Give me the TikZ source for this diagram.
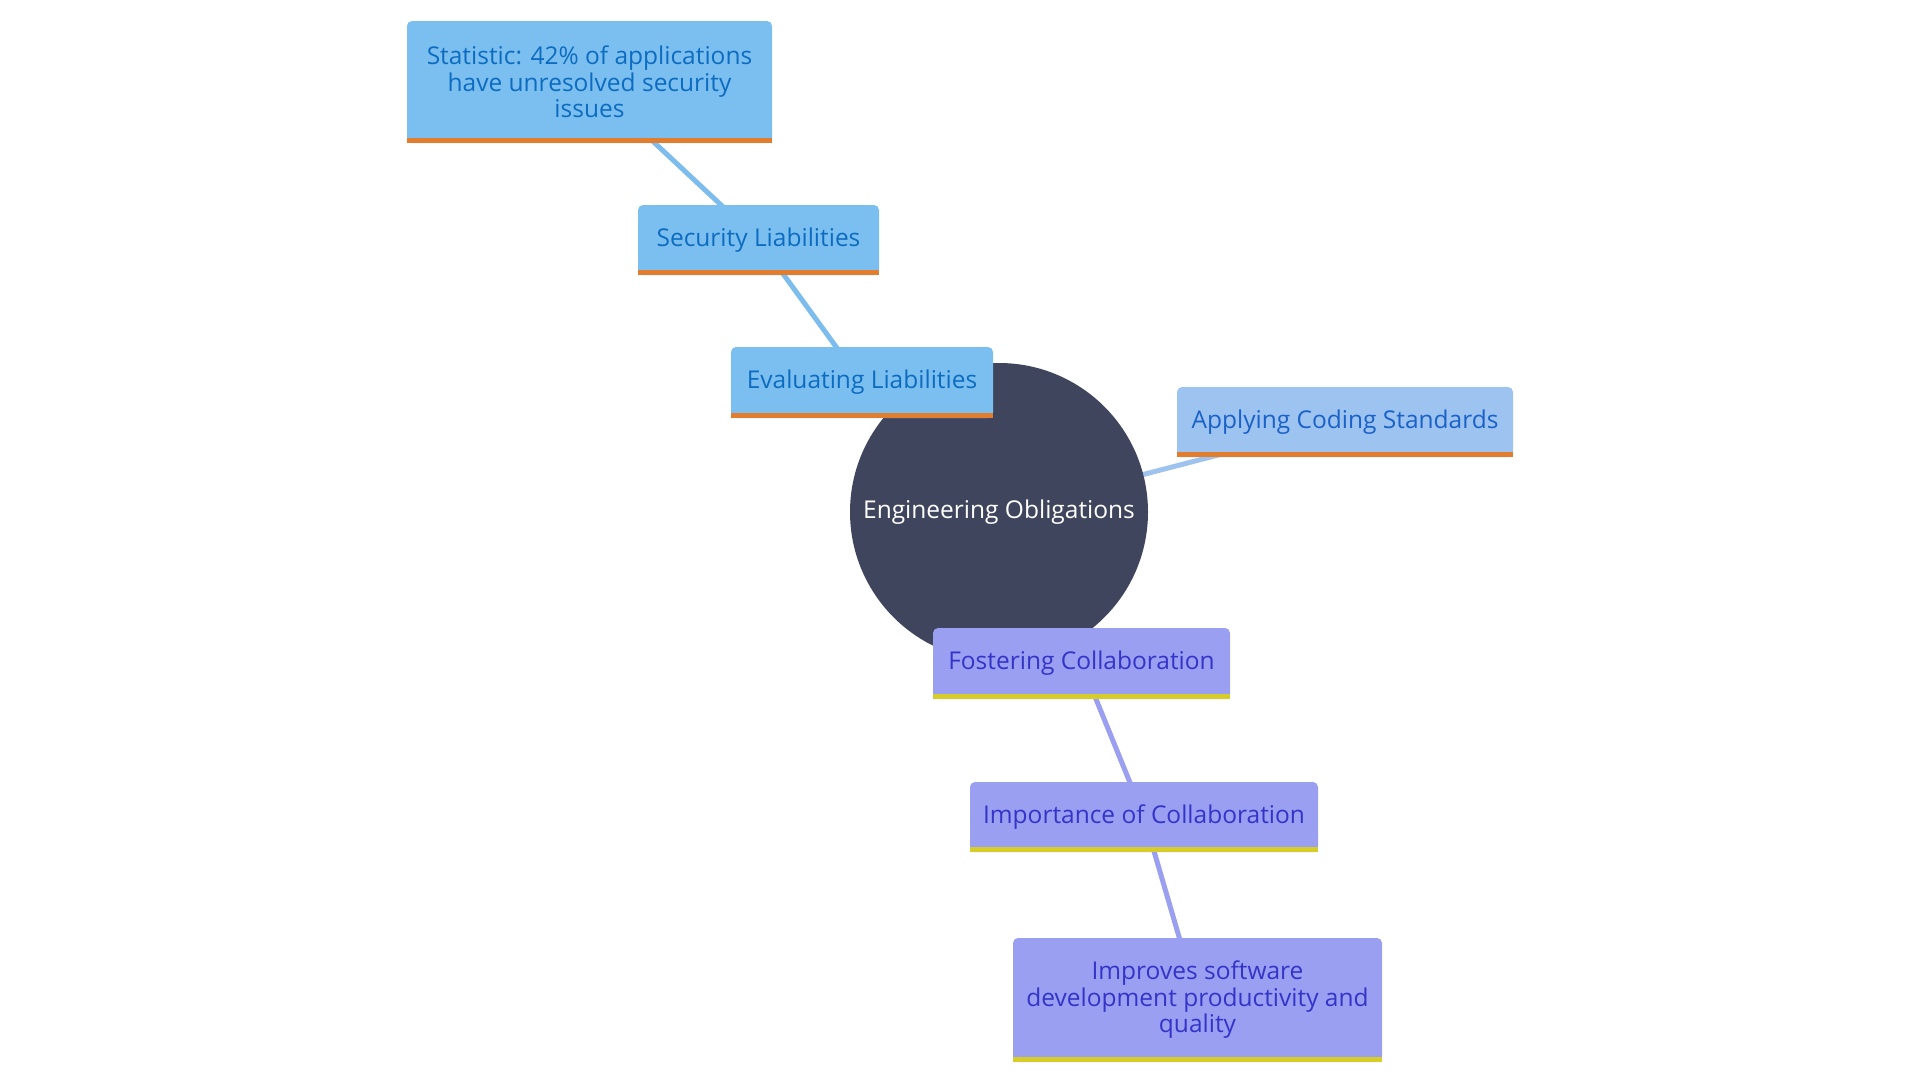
\documentclass[tikz,border=0pt]{standalone}
\usepackage{fontspec}
\setmainfont{Open Sans}
\usetikzlibrary{backgrounds}
\definecolor{bfill}{HTML}{7BBFF0}
\definecolor{btext}{HTML}{0D6CC0}
\definecolor{afill}{HTML}{9DC3F0}
\definecolor{atext}{HTML}{1A62C8}
\definecolor{pfill}{HTML}{9A9FF2}
\definecolor{ptext}{HTML}{3434C8}
\definecolor{barOrange}{HTML}{E27D2E}
\definecolor{barYellow}{HTML}{D6CD28}
\definecolor{hub}{HTML}{40455E}
\definecolor{bedge}{HTML}{7DBDEE}
\definecolor{aedge}{HTML}{9EC3EF}
\definecolor{pedge}{HTML}{9A9FF0}
\tikzset{
  box/.style={rounded corners=5pt, inner sep=0pt, align=center,
    font=\fontsize{24.5}{26.5}\selectfont},
  bluebox/.style={box, fill=bfill, text=btext},
  appbox/.style={box, fill=afill, text=atext},
  purpbox/.style={box, fill=pfill, text=ptext},
  conn/.style={line width=5pt},
}
\newcommand{\barunder}[2]{\fill[#2] (#1.south west) rectangle ([yshift=5pt]#1.south east);}
\begin{document}
\begin{tikzpicture}[x=1pt,y=-1pt]
\useasboundingbox (0,0) rectangle (1920,1080);
\node[circle, fill=hub, minimum size=298pt, inner sep=0pt, text=white,
  font=\fontsize{24.5}{26}\selectfont] (hub) at (999,512) {Engineering Obligations};
\node[bluebox, minimum width=262pt, minimum height=71pt] (eval) at (862,382.5) {Evaluating Liabilities};
\node[bluebox, minimum width=241pt, minimum height=70pt] (sec) at (758.5,240) {Security Liabilities};
\node[bluebox, minimum width=365pt, minimum height=122pt] (stat) at (589.5,82)
  {Statistic: 42\% of applications\\have unresolved security\\issues};
\node[appbox, minimum width=336pt, minimum height=70pt] (app) at (1345,422) {Applying Coding Standards};
\node[purpbox, minimum width=297pt, minimum height=71pt] (fost) at (1081.5,663.5) {Fostering Collaboration};
\node[purpbox, minimum width=348pt, minimum height=70pt] (imp) at (1144,817) {Importance of Collaboration};
\node[purpbox, minimum width=369pt, minimum height=124pt] (impr) at (1197.5,1000)
  {Improves software\\development productivity and\\quality};
\barunder{eval}{barOrange}
\barunder{sec}{barOrange}
\barunder{stat}{barOrange}
\barunder{app}{barOrange}
\barunder{fost}{barYellow}
\barunder{imp}{barYellow}
\barunder{impr}{barYellow}
\begin{scope}[on background layer]
\draw[conn, bedge] (hub.center) -- (eval.center);
\draw[conn, bedge] (eval.center) -- (sec.center);
\draw[conn, bedge] (sec.center) -- (stat.center);
\draw[conn, aedge] (hub.center) -- (app.center);
\draw[conn, pedge] (hub.center) -- (fost.center);
\draw[conn, pedge] (fost.center) -- (imp.center);
\draw[conn, pedge] (imp.center) -- (impr.center);
\end{scope}
\end{tikzpicture}
\end{document}
